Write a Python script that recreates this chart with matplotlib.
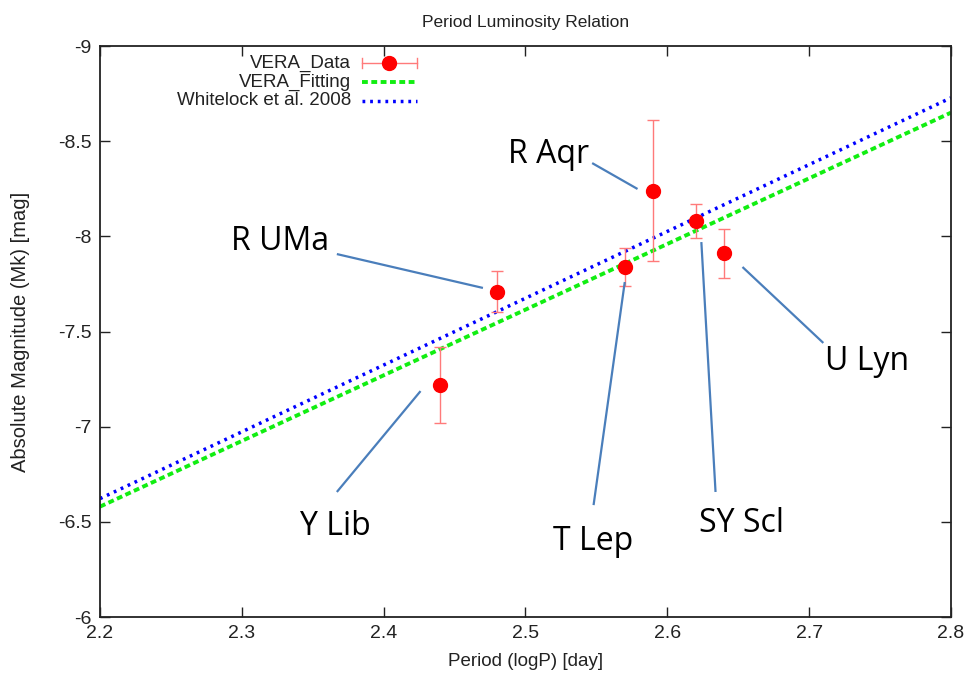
import matplotlib
matplotlib.use("Agg")
import matplotlib.pyplot as plt
from matplotlib.lines import Line2D
import numpy as np

# --- data -------------------------------------------------------------
stars = ["Y Lib", "R UMa", "T Lep", "R Aqr", "SY Scl", "U Lyn"]
log_period = [2.44, 2.48, 2.57, 2.59, 2.62, 2.64]
abs_mag = [-7.22, -7.71, -7.84, -8.24, -8.08, -7.91]
mag_err = [0.20, 0.11, 0.10, 0.37, 0.09, 0.13]

# linear PL relations  M_K = slope * logP + intercept
vera_fit = (-3.45, 1.01)
whitelock_2008 = (-3.51, 1.10)

x_ticks = [2.2, 2.3, 2.4, 2.5, 2.6, 2.7, 2.8]
y_ticks = [-9, -8.5, -8, -7.5, -7, -6.5, -6]
x_tick_labels = ["2.2", "2.3", "2.4", "2.5", "2.6", "2.7", "2.8"]
y_tick_labels = ["-9", "-8.5", "-8", "-7.5", "-7", "-6.5", "-6"]

# --- style ------------------------------------------------------------
narrow = ["Liberation Sans Narrow", "Liberation Sans", "DejaVu Sans"]
label_font = ["Open Sans", "DejaVu Sans"]
plt.rcParams["font.family"] = narrow

fig = plt.figure(figsize=(9.69, 6.75), dpi=100)
ax = fig.add_axes([0.1032, 0.0859, 0.8782, 0.8459])

xfit = np.array([x_ticks[0], x_ticks[-1]])
ax.plot(xfit, vera_fit[0] * xfit + vera_fit[1], color="#11ee11",
        lw=2.8, linestyle=(0, (1.5, 0.9)), zorder=2)
ax.plot(xfit, whitelock_2008[0] * xfit + whitelock_2008[1], color="#0000ff",
        lw=2.5, linestyle=(0, (0.8, 1.4)), zorder=2.5)

ax.errorbar(log_period, abs_mag, yerr=mag_err, fmt="o", color="red",
            ecolor="#ff7a7a", elinewidth=1.0, capsize=4.5, capthick=1.0,
            markersize=10, zorder=3)

ax.set_xlim(x_ticks[0], x_ticks[-1])
ax.set_ylim(-6, -9)
ax.set_xticks(x_ticks, x_tick_labels)
ax.set_yticks(y_ticks, y_tick_labels)
ax.tick_params(direction="in", length=7, width=1.0, top=True, right=True,
               labelsize=14, colors="#222222", pad=6)
for sp in ax.spines.values():
    sp.set_linewidth(1.3)
    sp.set_color("#222222")

ax.set_title("Period Luminosity Relation", fontsize=12.5, pad=14,
             color="#222222")
ax.set_xlabel("Period (logP) [day]", fontsize=13.5, labelpad=8,
              color="#222222")
ax.set_ylabel("Absolute Magnitude (Mk) [mag]", fontsize=14.5, labelpad=20,
              color="#222222")

# --- gnuplot-style key (text right-aligned, sample on the right) -------
key_text_x = 0.295
key_x0, key_x1 = 0.308, 0.372
key_rows = [0.970, 0.937, 0.904]
key_labels = ["VERA_Data", "VERA_Fitting", "Whitelock et al. 2008"]
for yk, lab in zip(key_rows, key_labels):
    ax.text(key_text_x, yk, lab, transform=ax.transAxes, ha="right",
            va="center", fontsize=13.5, color="#222222")
tr = ax.transAxes
y0 = key_rows[0]
ax.add_line(Line2D([key_x0, key_x1], [y0, y0], transform=tr,
                   color="#ff7a7a", lw=1.0))
for xc in (key_x0, key_x1):
    ax.add_line(Line2D([xc, xc], [y0 - 0.009, y0 + 0.009], transform=tr,
                       color="#ff7a7a", lw=1.0))
ax.add_line(Line2D([(key_x0 + key_x1) / 2], [y0], transform=tr,
                   marker="o", color="red", markersize=10, lw=0))
ax.add_line(Line2D([key_x0, key_x1], [key_rows[1]] * 2, transform=tr,
                   color="#11ee11", lw=2.8, linestyle=(0, (1.5, 0.9))))
ax.add_line(Line2D([key_x0, key_x1], [key_rows[2]] * 2, transform=tr,
                   color="#0000ff", lw=2.5, linestyle=(0, (0.8, 1.4))))

# --- star name callouts ----------------------------------------------
callouts = {
    # name: (text x, text baseline y, leader start, leader end)
    "R Aqr": ((2.516, -8.385), (2.547, -8.385), (2.579, -8.249)),
    "R UMa": ((2.327, -7.928), (2.367, -7.907), (2.470, -7.729)),
    "Y Lib": ((2.366, -6.431), (2.367, -6.657), (2.426, -7.187)),
    "T Lep": ((2.548, -6.352), (2.548, -6.588), (2.570, -7.760)),
    "SY Scl": ((2.652, -6.447), (2.634, -6.657), (2.624, -7.970)),
    "U Lyn": ((2.741, -7.298), (2.710, -7.440), (2.653, -7.839)),
}
leader_color = "#4a7ebb"
for name in stars:
    (tx, ty), (x0, y0l), (x1, y1l) = callouts[name]
    ax.text(tx, ty, name, ha="center", va="baseline", fontsize=23,
            family=label_font, color="black", zorder=5)
    ax.plot([x0, x1], [y0l, y1l], color=leader_color, lw=1.6, zorder=4,
            solid_capstyle="butt")

fig.savefig("out.png", dpi=100)
